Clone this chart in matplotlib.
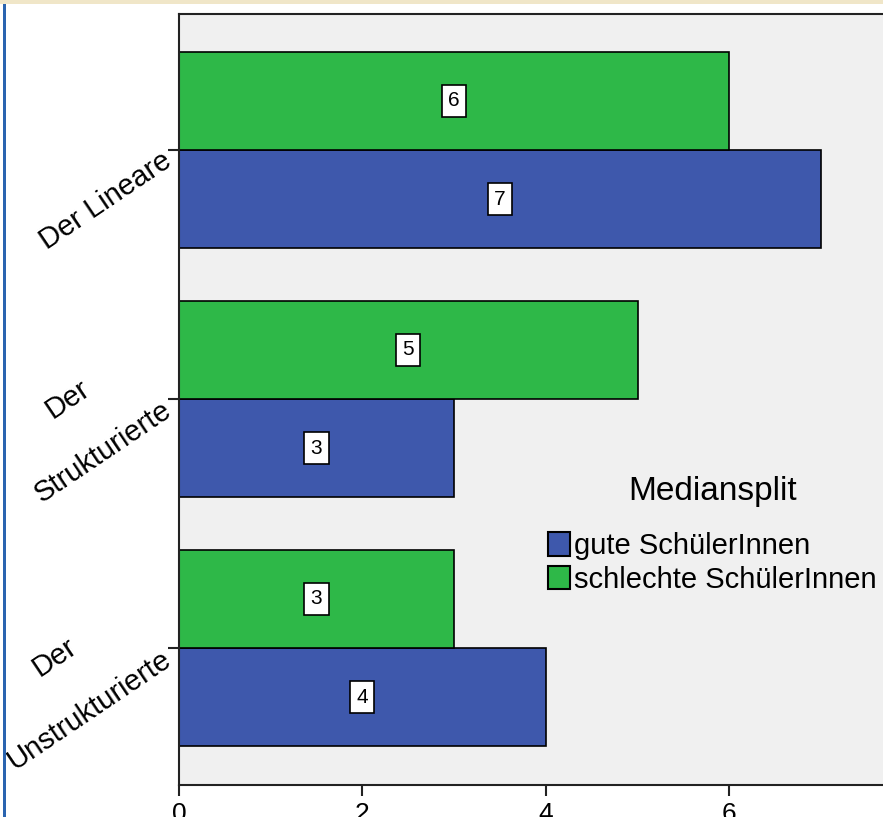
import numpy as np
import matplotlib.pyplot as plt
from matplotlib.patches import Rectangle
from matplotlib.transforms import ScaledTranslation

plt.rcParams['font.family'] = ['Liberation Sans', 'DejaVu Sans']

categories = ['Der Lineare', 'Der\nStrukturierte', 'Der\nUnstrukturierte']
gute = [7, 3, 4]
schlechte = [6, 5, 3]
series_names = ['gute SchülerInnen', 'schlechte SchülerInnen']
xticks = [0, 2, 4, 6]

blue = '#3e58ac'
green = '#2eb848'

fig = plt.figure(figsize=(8.83, 8.17), dpi=100)
fig.patch.set_facecolor('white')

# window frame bits around the chart
fig.patches.append(Rectangle((0, 1 - 4 / 817), 1, 4 / 817, transform=fig.transFigure,
                             facecolor='#f0e6c8', edgecolor='none', zorder=0))
fig.patches.append(Rectangle((3 / 883, 0), 3 / 883, 1 - 4 / 817, transform=fig.transFigure,
                             facecolor='#2a64b0', edgecolor='none', zorder=0))

ax = fig.add_axes([179 / 883, 32 / 817, 704 / 883, 771 / 817])
ax.set_facecolor('#f0f0f0')

y = np.arange(len(categories))
h = 0.394
ax.barh(y + h / 2, gute, height=h, color=blue, edgecolor='black', linewidth=1.2,
        label=series_names[0], zorder=2)
ax.barh(y - h / 2, schlechte, height=h, color=green, edgecolor='black', linewidth=1.2,
        label=series_names[1], zorder=2)

# value boxes in the middle of each bar
box = dict(boxstyle='square,pad=0.3', facecolor='white', edgecolor='black', lw=1.2)
for yi, v in zip(y + h / 2, gute):
    ax.text(v / 2, yi, str(v), ha='center', va='center', fontsize=15, zorder=3, bbox=box)
for yi, v in zip(y - h / 2, schlechte):
    ax.text(v / 2, yi, str(v), ha='center', va='center', fontsize=15, zorder=3, bbox=box)

ax.set_xlim(0, 704 / 91.7)
ax.set_ylim(2.55, -0.546)
ax.set_xticks(xticks)
ax.set_xticklabels([str(t) for t in xticks], fontsize=19)
ax.set_yticks(y)
ax.set_yticklabels([])

# slanted category names, last line ending at the tick
shift = ax.get_yaxis_transform() + ScaledTranslation(-0.025, -0.20, fig.dpi_scale_trans)
for yi, name in zip(y, categories):
    ax.text(0, yi, name, transform=shift, fontsize=21, rotation=34, ha='right', va='bottom',
            rotation_mode='anchor', multialignment='center', linespacing=2.6, clip_on=False)

ax.tick_params(axis='both', length=8, width=1.5, color='#222222', pad=4)
for side in ['left', 'bottom', 'top']:
    ax.spines[side].set_linewidth(1.5)
    ax.spines[side].set_color('#222222')
ax.spines['right'].set_visible(False)

leg = ax.legend(loc='upper left', bbox_to_anchor=(548 / 883, 1 - 476 / 817),
                bbox_transform=fig.transFigure, title='Mediansplit', fontsize=21,
                title_fontsize=24, frameon=False, handlelength=0.75, handleheight=0.85,
                handletextpad=0.15, labelspacing=0.2, borderpad=0, borderaxespad=0)
leg._legend_box.sep = 18
for p in leg.get_patches():
    p.set_linewidth(1.5)

fig.savefig('out.png', dpi=100)
